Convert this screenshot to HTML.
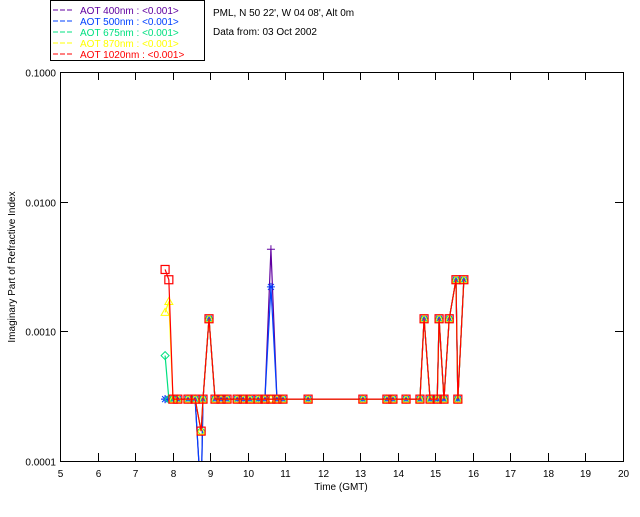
<!DOCTYPE html>
<html><head><meta charset="utf-8"><style>
body{margin:0;background:#fff;}
svg text{font-family:"Liberation Sans",sans-serif;font-size:10px;}
</style></head><body>
<svg id="c" width="640" height="512" xmlns="http://www.w3.org/2000/svg">
<rect width="640" height="512" fill="#fff"/>
<g>
<rect x="50.5" y="0.5" width="154" height="60" fill="none" stroke="#000"/>
<line x1="53" y1="10" x2="73" y2="10" stroke="#6000a0" stroke-dasharray="5,2"/><text x="80" y="14" fill="#6000a0">AOT  400nm : &lt;0.001&gt;</text>
<line x1="53" y1="21" x2="73" y2="21" stroke="#0040ff" stroke-dasharray="5,2"/><text x="80" y="25" fill="#0040ff">AOT  500nm : &lt;0.001&gt;</text>
<line x1="53" y1="32" x2="73" y2="32" stroke="#00e080" stroke-dasharray="5,2"/><text x="80" y="36" fill="#00e080">AOT  675nm : &lt;0.001&gt;</text>
<line x1="53" y1="43" x2="73" y2="43" stroke="#ffff00" stroke-dasharray="5,2"/><text x="80" y="47" fill="#ffff00">AOT  870nm : &lt;0.001&gt;</text>
<line x1="53" y1="54" x2="73" y2="54" stroke="#ff0000" stroke-dasharray="5,2"/><text x="80" y="58" fill="#ff0000">AOT 1020nm : &lt;0.001&gt;</text>
</g>
<text x="213" y="16">PML, N 50 22', W 04 08', Alt 0m</text>
<text x="213" y="35">Data from: 03 Oct 2002</text>
<text x="341" y="490" text-anchor="middle">Time (GMT)</text>
<text transform="translate(15,267) rotate(-90)" text-anchor="middle">Imaginary Part of Refractive Index</text>
<g id="axes"></g>
<defs><clipPath id="pc"><rect x="60" y="72" width="563" height="389"/></clipPath></defs>
<g id="plot" clip-path="url(#pc)"></g>
</svg>
<script>
const times=[7.80,7.90,8.01,8.14,8.41,8.60,8.76,8.81,8.97,9.13,9.29,9.45,9.72,9.88,10.06,10.28,10.46,10.62,10.78,10.94,11.61,13.07,13.71,13.87,14.22,14.59,14.70,14.86,15.05,15.10,15.23,15.37,15.55,15.60,15.76];
const s400=[0.0003,0.0003,0.0003,0.0003,0.0003,0.0003,0.00005,0.0003,0.00125,0.0003,0.0003,0.0003,0.0003,0.0003,0.0003,0.0003,0.0003,0.0043,0.0003,0.0003,0.0003,0.0003,0.0003,0.0003,0.0003,0.0003,0.00125,0.0003,0.0003,0.00125,0.0003,0.00125,0.0025,0.0003,0.0025];
const s500=[0.0003,0.0003,0.0003,0.0003,0.0003,0.0003,0.00005,0.0003,0.00125,0.0003,0.0003,0.0003,0.0003,0.0003,0.0003,0.0003,0.0003,0.0022,0.0003,0.0003,0.0003,0.0003,0.0003,0.0003,0.0003,0.0003,0.00125,0.0003,0.0003,0.00125,0.0003,0.00125,0.0025,0.0003,0.0025];
const s675=[0.00065,0.0003,0.0003,0.0003,0.0003,0.0003,0.00017,0.0003,0.00125,0.0003,0.0003,0.0003,0.0003,0.0003,0.0003,0.0003,0.0003,0.0003,0.0003,0.0003,0.0003,0.0003,0.0003,0.0003,0.0003,0.0003,0.00125,0.0003,0.0003,0.00125,0.0003,0.00125,0.0025,0.0003,0.0025];
const s870=[0.0014,0.0017,0.0003,0.0003,0.0003,0.0003,0.00017,0.0003,0.00125,0.0003,0.0003,0.0003,0.0003,0.0003,0.0003,0.0003,0.0003,0.0003,0.0003,0.0003,0.0003,0.0003,0.0003,0.0003,0.0003,0.0003,0.00125,0.0003,0.0003,0.00125,0.0003,0.00125,0.0025,0.0003,0.0025];
const s1020=[0.0030,0.0025,0.0003,0.0003,0.0003,0.0003,0.00017,0.0003,0.00125,0.0003,0.0003,0.0003,0.0003,0.0003,0.0003,0.0003,0.0003,0.0003,0.0003,0.0003,0.0003,0.0003,0.0003,0.0003,0.0003,0.0003,0.00125,0.0003,0.0003,0.00125,0.0003,0.00125,0.0025,0.0003,0.0025];
const xTicks=[5,6,7,8,9,10,11,12,13,14,15,16,17,18,19,20];
const yTicks=[0.0001,0.001,0.01,0.1];
const yLabels=["0.0001","0.0010","0.0100","0.1000"];
const X0=60,X1=623,Y0=461,Y1=72;
const sx=v=>X0+(v-5)*(X1-X0)/15;
const sy=v=>Y0-(Math.log10(v)+4)*(Y0-Y1)/3;
const NS="http://www.w3.org/2000/svg";
function mk(t,a,p){const e=document.createElementNS(NS,t);for(const k in a)e.setAttribute(k,a[k]);p.appendChild(e);return e;}
const ax=document.getElementById('axes'),pl=document.getElementById('plot');
const fr=mk('rect',{x:X0+.5,y:Y1+.5,width:X1-X0,height:Y0-Y1,fill:'none',stroke:'#000'},ax);


xTicks.forEach(t=>{const x=Math.round(sx(t))+.5;
mk('line',{x1:x,y1:Y0,x2:x,y2:Y0-8,stroke:'#000'},ax);
mk('line',{x1:x,y1:Y1,x2:x,y2:Y1+8,stroke:'#000'},ax);
const tx=mk('text',{x:x,y:477,'text-anchor':'middle'},ax);tx.textContent=t;

});
yTicks.forEach((t,i)=>{const y=Math.round(sy(t))+.5;
const tx=mk('text',{x:56,y:y+4,'text-anchor':'end'},ax);tx.textContent=yLabels[i];


mk('line',{x1:X0,y1:y,x2:X0+8,y2:y,stroke:'#000'},ax);
mk('line',{x1:X1,y1:y,x2:X1-8,y2:y,stroke:'#000'},ax);});
function series(vals,col,name,marker){
const g=mk('g',{},pl);


mk('polyline',{points:times.map((t,i)=>sx(t)+','+sy(vals[i])).join(' '),fill:'none',stroke:col,'stroke-width':1.2},g);
times.forEach((t,i)=>{const x=sx(t),y=sy(vals[i]);
if(marker==='plus'){mk('path',{d:`M${x-4},${y}H${x+4}M${x},${y-4}V${y+4}`,stroke:col},g);}
else if(marker==='star'){mk('path',{d:`M${x-4},${y}H${x+4}M${x},${y-4}V${y+4}M${x-3},${y-3}L${x+3},${y+3}M${x-3},${y+3}L${x+3},${y-3}`,stroke:col},g);}
else if(marker==='diamond'){mk('path',{d:`M${x},${y-4}L${x+4},${y}L${x},${y+4}L${x-4},${y}Z`,fill:'none',stroke:col},g);}
else if(marker==='tri'){mk('path',{d:`M${x},${y-4}L${x+4},${y+3}L${x-4},${y+3}Z`,fill:'none',stroke:col},g);}
else {mk('rect',{x:x-4,y:y-4,width:8,height:8,fill:'none',stroke:col,'stroke-width':1.2},g);}
});}
series(s400,'#6000a0','series-400nm','plus');
series(s500,'#0040ff','series-500nm','star');
series(s675,'#00e080','series-675nm','diamond');
series(s870,'#ffff00','series-870nm','tri');
series(s1020,'#ff0000','series-1020nm','square');
</script>
</body></html>
